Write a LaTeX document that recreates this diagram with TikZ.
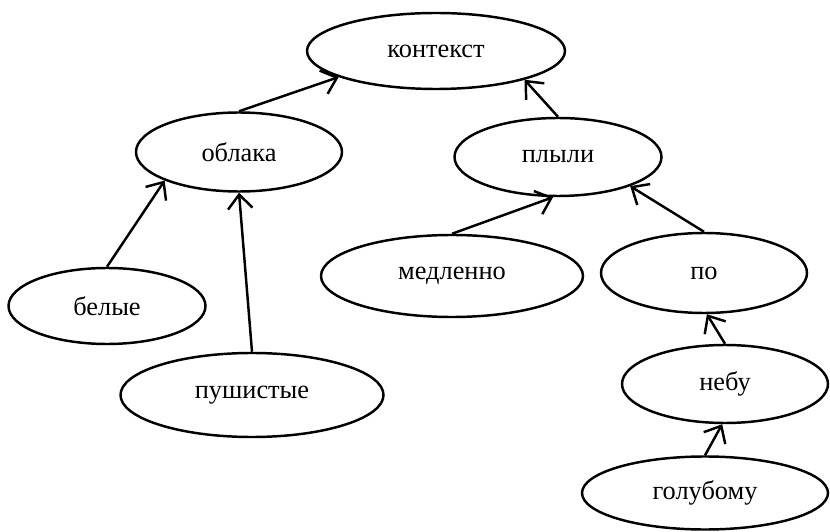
\documentclass[tikz,border=0pt]{standalone}
\usepackage{fontspec}
\setmainfont{Liberation Serif}
\usetikzlibrary{shapes.geometric,arrows.meta}
\tikzset{
  word/.style={ellipse, draw, line width=1.4pt, inner sep=0pt,
    font=\fontsize{15}{18}\selectfont},
  link/.style={line width=1.4pt, -{Straight Barb[length=8pt,width=14pt,line width=1.4pt]}}
}
\begin{document}
\begin{tikzpicture}
    \useasboundingbox (0,0) rectangle (16.6,10.62);

    \node[word, minimum width=5.16cm, minimum height=1.52cm] (kontekst) at (8.72,9.60) {контекст};
    \node[word, minimum width=4.12cm, minimum height=1.58cm] (oblaka) at (4.78,7.58) {облака};
    \node[word, minimum width=4.14cm, minimum height=1.56cm] (plyli) at (11.16,7.48) {плыли};
    \node[word, minimum width=3.94cm, minimum height=1.52cm] (belye) at (2.14,4.50) {белые};
    \node[word, minimum width=5.26cm, minimum height=1.68cm] (pushistye) at (5.04,2.72) {пушистые};
    \node[word, minimum width=5.24cm, minimum height=1.64cm] (medlenno) at (9.04,5.10) {медленно};
    \node[word, minimum width=4.12cm, minimum height=1.60cm] (po) at (14.08,5.16) {по};
    \node[word, minimum width=4.12cm, minimum height=1.56cm] (nebu) at (14.50,2.94) {небу};
    \node[word, minimum width=4.92cm, minimum height=1.46cm] (golubomu) at (14.10,0.76) {голубому};

    \draw[link] (oblaka.north) -- (kontekst.195);
    \draw[link] (plyli.north) -- (kontekst.342);
    \draw[link] (belye.north) -- (oblaka.201);
    \draw[link] (pushistye.north) -- (oblaka.south);
    \draw[link] (medlenno.north) -- (plyli.263);
    \draw[link] (po.north) -- (plyli.338);
    \draw[link] (nebu.north) -- (po.274);
    \draw[link] (golubomu.north) -- (nebu.266);
\end{tikzpicture}
\end{document}
